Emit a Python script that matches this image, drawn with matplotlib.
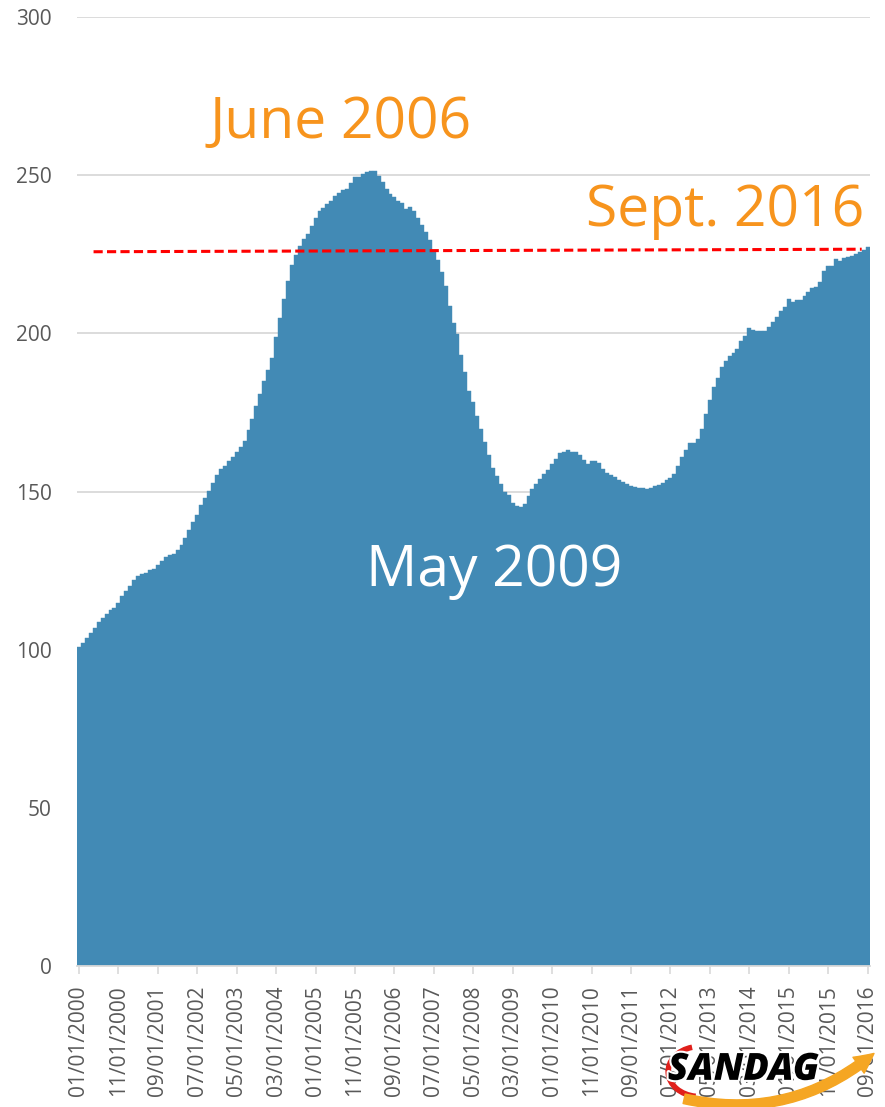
import numpy as np
import pandas as pd
import matplotlib.pyplot as plt
import matplotlib.patheffects as pe
from matplotlib.patches import FancyArrowPatch, Arc

plt.rcParams['font.family'] = ['Open Sans', 'DejaVu Sans']

# monthly index values, Jan 2000 .. Sept 2016
months = pd.date_range('2000-01-01', periods=201, freq='MS').strftime('%m/%d/%Y').tolist()

hpi = [
    100.9, 102.2, 103.8, 105.4, 107.0, 108.8, 110.0, 111.4, 112.4, 113.3,
    114.9, 116.9, 118.5, 120.0, 122.1, 123.2, 124.0, 124.2, 125.1, 125.6,
    126.7, 128.0, 129.3, 129.8, 130.1, 131.6, 133.0, 135.4, 137.9, 140.3,
    142.7, 145.6, 147.9, 150.3, 152.8, 155.1, 157.0, 158.2, 159.5, 160.9,
    162.5, 164.0, 166.1, 169.3, 173.0, 176.9, 180.9, 184.8, 188.5, 192.3,
    198.8, 204.8, 210.9, 216.4, 221.6, 224.8, 227.7, 229.8, 231.4, 234.0,
    236.4, 238.8, 239.6, 240.9, 241.9, 243.5, 244.3, 245.3, 245.6, 247.4,
    249.3, 249.5, 250.4, 250.9, 251.4, 251.3, 249.8, 247.7, 245.6, 244.1,
    243.0, 241.9, 241.1, 239.3, 239.8, 238.8, 236.5, 234.3, 232.2, 229.5,
    226.4, 223.3, 219.5, 215.1, 208.8, 203.2, 199.8, 193.0, 187.9, 181.9,
    178.2, 174.0, 169.8, 165.5, 161.7, 157.5, 154.8, 152.5, 150.0, 148.8,
    146.3, 145.5, 145.1, 146.1, 148.6, 150.7, 152.5, 154.0, 155.6, 156.7,
    158.8, 160.4, 162.2, 162.5, 163.0, 162.5, 162.5, 161.4, 160.0, 158.6,
    159.5, 159.5, 159.0, 157.2, 155.8, 155.3, 154.6, 153.7, 153.0, 152.5,
    151.6, 151.4, 151.1, 151.1, 150.8, 151.2, 151.6, 152.2, 152.7, 153.5,
    154.2, 155.6, 158.2, 160.9, 163.2, 165.3, 165.4, 166.5, 169.8, 174.6,
    178.8, 183.0, 185.8, 189.3, 191.4, 192.8, 193.7, 195.1, 197.5, 199.3,
    201.7, 201.1, 200.9, 200.7, 200.9, 201.9, 203.5, 205.1, 207.0, 208.3,
    210.9, 209.8, 210.4, 210.4, 211.9, 213.0, 214.4, 214.6, 216.1, 219.6,
    221.4, 221.4, 223.5, 223.0, 223.7, 224.0, 224.5, 225.1, 225.6, 226.4,
    227.4,
]

# red reference line (start month, end month) and its levels
ref_months = [3.7, 198.5]
ref_values = [225.8, 226.6]

bar_color = '#428AB5'
orange = '#F7941D'
gray = '#595959'

fig = plt.figure(figsize=(8.85, 11.07), dpi=100)
ax = fig.add_axes([0.087, 0.1274, 0.896, 0.8572])

x = np.arange(len(hpi))
ax.bar(x, hpi, width=1.0, color=bar_color, edgecolor=bar_color, linewidth=0.3, zorder=2)
ax.plot(ref_months, ref_values, color='#FF0000', linestyle=(0, (3, 1.4)),
        linewidth=2.2, zorder=3)

ax.set_ylim(0, 300)
ax.set_xlim(-0.5, 200.6)
ax.set_yticks(range(0, 301, 50))
ax.grid(axis='y', color='#D9D9D9', linewidth=1.3)
ax.set_axisbelow(True)
for s in ['top', 'right', 'left']:
    ax.spines[s].set_visible(False)
ax.spines['bottom'].set_color('#D9D9D9')
ax.spines['bottom'].set_linewidth(1.3)

ax.set_xticks(x[::10])
ax.set_xticklabels(months[::10], rotation=90)
ax.tick_params(axis='x', length=6, width=1.2, color='#D9D9D9', labelsize=15,
               labelcolor=gray, pad=8)
ax.tick_params(axis='y', length=0, labelsize=15, labelcolor=gray, pad=18)

# annotations
ax.text(66.3, 266.5, 'June 2006', color=orange, fontsize=41, ha='center', va='center')
ax.text(163.8, 238.6, 'Sept. 2016', color=orange, fontsize=41, ha='center', va='center')
ax.text(105.4, 124.6, 'May 2009', color='white', fontsize=41, ha='center', va='center')

# rough SANDAG logo (swooshes + lettering)
swoosh = Arc((0.79, 0.032), 0.07, 0.045, theta1=110, theta2=260, transform=fig.transFigure,
             color='#E0201B', linewidth=4, zorder=5)
fig.patches.append(swoosh)
arrow = FancyArrowPatch((0.77, 0.008), (0.99, 0.05), transform=fig.transFigure,
                        connectionstyle='arc3,rad=0.25',
                        arrowstyle='simple,head_width=14,head_length=14,tail_width=7',
                        color='#F5A623', zorder=5)
fig.patches.append(arrow)
fig.text(0.84, 0.034, 'SANDAG', fontsize=27, fontweight='heavy', style='italic',
         color='black', ha='center', va='center', zorder=6,
         path_effects=[pe.withStroke(linewidth=3, foreground='white')])

fig.savefig('out.png', dpi=100)
